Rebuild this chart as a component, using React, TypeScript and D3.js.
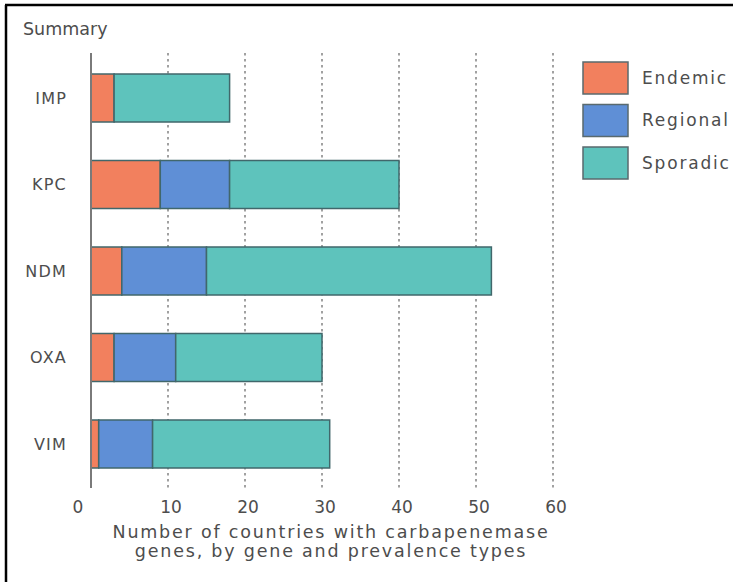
import React from "react";
import * as d3 from "d3";

const categories = ["IMP", "KPC", "NDM", "OXA", "VIM"];
const seriesNames = ["Endemic", "Regional", "Sporadic"];
const endemic = [3, 9, 4, 3, 1];
const regional = [0, 9, 11, 8, 7];
const sporadic = [15, 22, 37, 19, 23];
const xTicks = [0, 10, 20, 30, 40, 50, 60];
const colors = ["#f2805e", "#5f8fd6", "#5ec3bc"];
const titleLines = ["Number of countries with carbapenemase", "genes, by gene and prevalence types"];

const W = 733;
const H = 582;
const FONT = "'DejaVu Sans', Verdana, sans-serif";
const TXT = "#4d4d4d";

export default function App() {
  const x = d3.scaleLinear().domain([0, 60]).range([91, 553]);
  const y = d3.scaleBand<string>().domain(categories).range([74, 468]).paddingInner(0.445).paddingOuter(0);
  const rows = categories.map((c, i) => ({ cat: c, Endemic: endemic[i], Regional: regional[i], Sporadic: sporadic[i] }));
  const stacked = d3.stack<any>().keys(seriesNames)(rows);
  const ly = d3.scaleLinear().domain([0, 2]).range([62, 147]);

  return (
    <svg width={W} height={H} style={{ position: "absolute", left: 0, top: 0, display: "block", background: "#fff" }}>
      <rect x={0} y={0} width={W} height={H} fill="#fff" />
      <line x1={5} x2={W} y1={5} y2={5} stroke="#000" strokeWidth={2.5} />
      <line x1={6} x2={6} y1={5} y2={H} stroke="#000" strokeWidth={2.5} />
      <text x={23} y={35} fontFamily={FONT} fontSize={17.5} fill={TXT}>Summary</text>

      {xTicks.filter((t) => t > 0).map((t) => (
        <line key={t} x1={x(t)} x2={x(t)} y1={53} y2={490} stroke="#8a8a8a" strokeWidth={1.6} strokeDasharray="2.5,3.5" />
      ))}

      {stacked.map((s, si) => (
        <g key={s.key}>
          {s.map((d, i) => (
            d[1] - d[0] > 0 ? (
              <rect key={i} x={x(d[0])} y={y(categories[i])} width={x(d[1]) - x(d[0])} height={y.bandwidth()}
                fill={colors[si]} stroke="#41676b" strokeWidth={1.5} />
            ) : null
          ))}
        </g>
      ))}

      <line x1={x(0)} x2={x(0)} y1={53} y2={488} stroke="#7a7a7a" strokeWidth={2} />

      {categories.map((c) => (
        <text key={c} x={67} y={(y(c) as number) + y.bandwidth() / 2} dy="0.35em" textAnchor="end"
          fontFamily={FONT} fontSize={16} letterSpacing={1.2} fill={TXT}>{c}</text>
      ))}

      {xTicks.map((t) => (
        <text key={t} x={t === 0 ? x(t) - 13 : x(t) + 3} y={513} textAnchor="middle" fontFamily={FONT} fontSize={17} fill={TXT}>{t}</text>
      ))}

      {titleLines.map((l, i) => (
        <text key={i} x={331} y={538 + i * 19} textAnchor="middle" fontFamily={FONT} fontSize={17.5} letterSpacing={1.8} fill={TXT}>{l}</text>
      ))}

      {seriesNames.map((n, i) => (
        <g key={n}>
          <rect x={583} y={ly(i)} width={45} height={32} fill={colors[i]} stroke="#5a6a6e" strokeWidth={1.5} />
          <text x={642} y={ly(i) + 16} dy="0.35em" fontFamily={FONT} fontSize={17} letterSpacing={1.8} fill={TXT}>{n}</text>
        </g>
      ))}
    </svg>
  );
}
